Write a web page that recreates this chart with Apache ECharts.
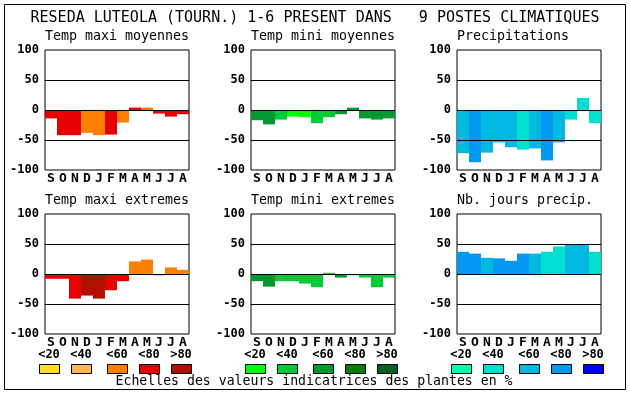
<!DOCTYPE html>
<html><head><meta charset="utf-8">
<script src="https://cdn.jsdelivr.net/npm/echarts@6/dist/echarts.min.js"></script>
<style>html,body{margin:0;padding:0;background:#fff}#c{width:630px;height:394px}</style>
</head><body><div id="c"></div>
<script>
const months = ['S','O','N','D','J','F','M','A','M','J','J','A'];
const yMin = -100, yMax = 100, yStep = 50;
const refLines = [50, 0, -50];
const classLabels = ['<20','<40','<60','<80','>80'];

const redScale   = ['#ffe020','#ffb850','#ff8000','#e80000','#b01000'];
const greenScale = ['#00ff00','#00cc38','#009a30','#008000','#006020'];
const blueScale  = ['#00ffb0','#00e0d0','#00b8e0','#0098f0','#0000ff'];

const titleMain = 'RESEDA LUTEOLA (TOURN.) 1-6 PRESENT DANS   9 POSTES CLIMATIQUES';
const footText = 'Echelles des valeurs indicatrices des plantes en %';

const panelTitles = ['Temp maxi moyennes','Temp mini moyennes','Precipitations',
                     'Temp maxi extremes','Temp mini extremes','Nb. jours precip.'];

const tmaxMoyVals = [-14,-42,-42,-38,-42,-41,-21,4,4,-6,-11,-7];
const tmaxMoyCls  = [3,3,3,2,2,3,2,3,2,3,3,3];
const tminMoyVals = [-17,-24,-16,-11,-12,-22,-12,-7,4,-14,-16,-14];
const tminMoyCls  = [2,2,1,0,0,1,1,2,2,2,2,2];
const precVals    = [-72,-87,-71,-54,-62,-66,-64,-84,-54,-16,20,-22];
const precCls     = [2,3,2,2,2,1,2,3,2,1,1,1];
const tmaxExtVals = [-8,-8,-41,-36,-41,-27,-12,21,24,-2,11,7];
const tmaxExtCls  = [3,3,3,4,4,3,3,2,2,3,2,2];
const tminExtVals = [-12,-21,-12,-12,-16,-22,2,-6,-2,-6,-22,-6];
const tminExtCls  = [2,2,1,1,1,1,1,2,1,1,1,1];
const joursVals   = [37,34,27,26,22,34,34,37,46,49,49,37];
const joursCls    = [3,3,2,3,3,3,2,1,1,2,2,1];

const panels = [
  {vals:tmaxMoyVals, cls:tmaxMoyCls, pal:redScale},
  {vals:tminMoyVals, cls:tminMoyCls, pal:greenScale},
  {vals:precVals, cls:precCls, pal:blueScale},
  {vals:tmaxExtVals, cls:tmaxExtCls, pal:redScale},
  {vals:tminExtVals, cls:tminExtCls, pal:greenScale},
  {vals:joursVals, cls:joursCls, pal:blueScale}
];

const MONO = '"DejaVu Sans Mono", monospace';
const colLeft = [45, 251, 457];
const rowTop = [50, 214];
const PW = 144, PH = 120;

const grids = [], xAxes = [], yAxes = [], series = [], graphic = [];
panels.forEach((p, i) => {
  const c = i % 3, r = Math.floor(i / 3);
  grids.push({left: colLeft[c], top: rowTop[r], width: PW, height: PH,
    show: true, borderColor: '#000', borderWidth: 1, backgroundColor: '#fff'});
  xAxes.push({type: 'category', gridIndex: i, data: months,
    axisLine: {show: false}, axisTick: {show: false},
    axisLabel: {fontFamily: MONO, fontWeight: 'bold', fontSize: 13, color: '#000', margin: 2, interval: 0}});
  yAxes.push({type: 'value', gridIndex: i, min: yMin, max: yMax, interval: yStep,
    axisLine: {show: false}, axisTick: {show: false}, splitLine: {show: false},
    axisLabel: {fontFamily: MONO, fontWeight: 'bold', fontSize: 12, color: '#000', margin: 6}});
  series.push({type: 'bar', xAxisIndex: i, yAxisIndex: i, barWidth: '100%', barGap: '0%',
    data: p.vals.map((v, k) => ({value: v, itemStyle: {color: p.pal[p.cls[k]]}})),
    markLine: {silent: true, symbol: 'none', label: {show: false},
      lineStyle: {color: '#000', width: 1, type: 'solid'},
      data: refLines.map(y => ({yAxis: y}))}
  });
  graphic.push({type: 'text', left: colLeft[c], top: (r === 0 ? 38 : 202) - 8,
    style: {text: panelTitles[i], font: '13.3px ' + MONO, fill: '#000'}});
});

graphic.push({type: 'rect', shape: {x: 4.5, y: 4.5, width: 621, height: 385},
  style: {fill: 'none', stroke: '#000', lineWidth: 1}, z: 0});
graphic.push({type: 'text', x: 315, y: 18,
  style: {text: titleMain, font: '15px ' + MONO, fill: '#000', textAlign: 'center', textVerticalAlign: 'middle'}});
graphic.push({type: 'text', x: 314, y: 382,
  style: {text: footText, font: '13.2px ' + MONO, fill: '#000', textAlign: 'center', textVerticalAlign: 'middle'}});

const groupLeft = [39, 245, 451];
const boxOffsets = [0, 32, 68, 100, 132];
const palettes = [redScale, greenScale, blueScale];
groupLeft.forEach((gx, g) => {
  boxOffsets.forEach((off, k) => {
    graphic.push({type: 'rect', shape: {x: gx + off + 0.5, y: 364.5, width: 20, height: 9},
      style: {fill: palettes[g][k], stroke: '#000', lineWidth: 1}});
    graphic.push({type: 'text', x: gx + off + 10, y: 355,
      style: {text: classLabels[k], font: 'bold 12px ' + MONO, fill: '#000', textAlign: 'center', textVerticalAlign: 'middle'}});
  });
});

const chart = echarts.init(document.getElementById('c'), null, {renderer: 'canvas'});
chart.setOption({animation: false, backgroundColor: '#fff',
  grid: grids, xAxis: xAxes, yAxis: yAxes, series: series, graphic: graphic});
</script></body></html>
